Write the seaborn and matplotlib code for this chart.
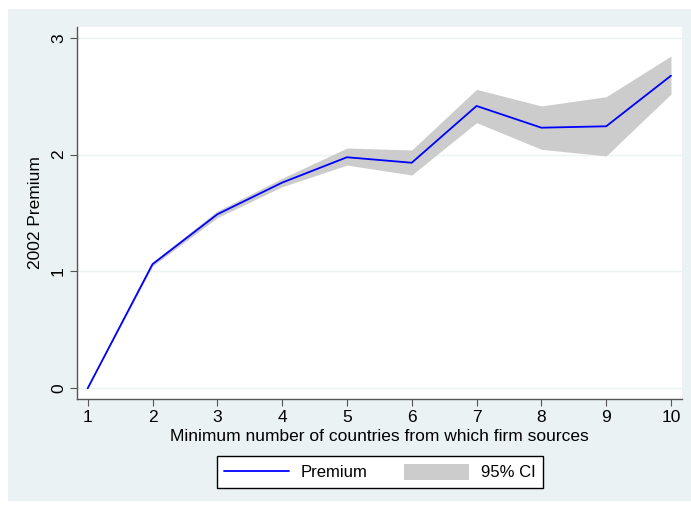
import matplotlib
matplotlib.use("Agg")
import matplotlib.pyplot as plt
import matplotlib.patches as mpatches
from matplotlib.lines import Line2D
import seaborn as sns
import pandas as pd

countries = [1, 2, 3, 4, 5, 6, 7, 8, 9, 10]
premium = [0.0, 1.062, 1.489, 1.76, 1.977, 1.930, 2.416, 2.230, 2.242, 2.675]
ci_upper = [0.0, 1.08, 1.517, 1.797, 2.056, 2.039, 2.558, 2.416, 2.495, 2.843]
ci_lower = [0.0, 1.045, 1.46, 1.725, 1.91, 1.825, 2.273, 2.045, 1.988, 2.518]

df = pd.DataFrame({"countries": countries, "premium": premium,
                   "lo": ci_lower, "hi": ci_upper})

sns.set_theme(style="white")
plt.rcParams["font.family"] = ["Liberation Sans", "DejaVu Sans"]
plt.rcParams["text.color"] = "black"
plt.rcParams["axes.labelcolor"] = "black"

W, H = 691, 505
bg = "#EAF2F3"
fig = plt.figure(figsize=(W / 100, H / 100), dpi=100, facecolor="white")
rect = mpatches.Rectangle((8 / W, 1 - 501 / H), 1, 492 / H,
                          transform=fig.transFigure, facecolor=bg,
                          edgecolor="none", zorder=-10)
fig.add_artist(rect)
ax = fig.add_axes([77 / W, 1 - 399 / H, (682 - 77) / W, (399 - 27) / H])
ax.set_zorder(1)
ax.set_facecolor("white")

ax.fill_between(df["countries"], df["lo"], df["hi"], color="#CCCCCC",
                linewidth=0, zorder=2)
sns.lineplot(data=df, x="countries", y="premium", ax=ax, color="#0000FF",
             linewidth=1.3, zorder=3, legend=False)

ax.set_xlim(0.835, 10.17)
ax.set_ylim(-0.0916, 3.0916)
ax.set_xticks(countries)
ax.set_yticks([0, 1, 2, 3])
ax.set_yticklabels(["0", "1", "2", "3"], rotation=90, va="center")
for y in [0, 1, 2, 3]:
    ax.axhline(y, color=bg, linewidth=1.0, zorder=1)

for s in ["top", "right"]:
    ax.spines[s].set_visible(False)
for s in ["left", "bottom"]:
    ax.spines[s].set_color("#555555")
    ax.spines[s].set_linewidth(1.0)

ax.tick_params(axis="both", which="major", length=5, width=0.8, color="#555555",
               labelsize=12.5, labelcolor="black", pad=3, left=True, bottom=True)
ax.set_xlabel("Minimum number of countries from which firm sources",
              fontsize=12.5, labelpad=2.5)
ax.set_ylabel("2002 Premium", fontsize=12.5, labelpad=6)

handles = [Line2D([0], [0], color="#0000FF", linewidth=1.3),
           mpatches.Patch(facecolor="#CCCCCC", edgecolor="none")]
leg = fig.legend(handles, ["Premium", "95% CI"], loc="center",
                 bbox_to_anchor=(380 / W, 1 - 472 / H), ncol=2,
                 frameon=True, fancybox=False, fontsize=12, framealpha=1,
                 handlelength=3.9, handleheight=1.1, columnspacing=2.2,
                 borderpad=0.45, handletextpad=0.7)
leg.get_frame().set_edgecolor("black")
leg.get_frame().set_linewidth(1.0)
leg.get_frame().set_facecolor("white")

fig.savefig("out.png", dpi=100, facecolor=fig.get_facecolor())
